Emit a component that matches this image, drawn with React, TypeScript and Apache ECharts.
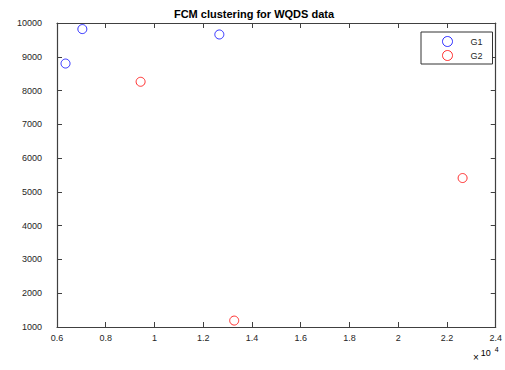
import React, { useEffect, useRef } from "react";
import * as echarts from "echarts";

const g1X = [6350, 7040, 12660];
const g1Y = [8800, 9820, 9660];
const g2X = [9430, 13270, 22640];
const g2Y = [8260, 1190, 5410];
const seriesNames = ["G1", "G2"];
const titleText = "FCM clustering for WQDS data";

const FONT = "'Liberation Sans', Arial, Helvetica, sans-serif";
const TXT = "#262626";
const AX = "#404040";

export default function App() {
  const ref = useRef<HTMLDivElement>(null);
  useEffect(() => {
    if (!ref.current) return;
    const chart = echarts.init(ref.current, undefined, { renderer: "svg" });
    const axisCommon = {
      axisLine: { show: true, lineStyle: { color: AX, width: 1.2 } },
      axisTick: { show: true, inside: true, length: 5, lineStyle: { color: AX, width: 1 } },
      splitLine: { show: false },
    };
    chart.setOption({
      animation: false,
      backgroundColor: "#ffffff",
      title: {
        text: titleText,
        left: 249,
        textAlign: "center",
        top: 3,
        textStyle: { fontFamily: FONT, fontSize: 11, fontWeight: "bold", color: "#000" },
      },
      grid: { left: 57, right: 3, top: 23, bottom: 43 },
      legend: {
        orient: "vertical",
        left: 421,
        top: 32,
        padding: [4, 10, 3, 21],
        itemGap: 3,
        itemWidth: 10,
        itemHeight: 10,
        itemStyle: { borderWidth: 1 },
        backgroundColor: "#fff",
        borderColor: "#333",
        borderWidth: 1,
        borderRadius: 0,
        textStyle: { fontFamily: FONT, fontSize: 9, color: TXT, padding: [0, 0, 3, 13] },
        data: seriesNames,
      },
      xAxis: [
        {
          type: "value",
          min: 6000,
          max: 24000,
          interval: 2000,
          position: "bottom",
          ...axisCommon,
          axisLabel: {
            fontFamily: FONT,
            fontSize: 9,
            color: TXT,
            margin: 6,
            formatter: (v: number) => String(Math.round(v / 1000) / 10),
          },
        },
        {
          type: "value",
          min: 6000,
          max: 24000,
          interval: 2000,
          position: "top",
          ...axisCommon,
          axisLabel: { show: false },
        },
      ],
      yAxis: [
        {
          type: "value",
          min: 1000,
          max: 10000,
          interval: 1000,
          position: "left",
          ...axisCommon,
          axisLabel: {
            fontFamily: FONT,
            fontSize: 9,
            color: TXT,
            margin: 15,
            padding: [0, 0, 5, 0],
            formatter: (v: number) => String(v),
          },
        },
        {
          type: "value",
          min: 1000,
          max: 10000,
          interval: 1000,
          position: "right",
          ...axisCommon,
          axisLabel: { show: false },
        },
      ],
      graphic: [
        {
          type: "text",
          left: 473,
          top: 346,
          style: {
            text: "{a|×}{b|10}{c|4}",
            rich: {
              a: { fontFamily: FONT, fontSize: 10, color: TXT, padding: [10, 2, 0, 0] },
              b: { fontFamily: FONT, fontSize: 9, color: TXT, padding: [2, 4, 0, 0] },
              c: { fontFamily: FONT, fontSize: 7, color: TXT, padding: [0, 0, 5, 0] },
            },
          },
        },
      ],
      series: [
        {
          name: seriesNames[0],
          type: "scatter",
          symbol: "circle",
          symbolSize: 9,
          itemStyle: { color: "rgba(0,0,0,0)", borderColor: "#0000ff", borderWidth: 1 },
          data: g1X.map((x, i) => [x, g1Y[i]]),
        },
        {
          name: seriesNames[1],
          type: "scatter",
          symbol: "circle",
          symbolSize: 9,
          itemStyle: { color: "rgba(0,0,0,0)", borderColor: "#ff0000", borderWidth: 1 },
          data: g2X.map((x, i) => [x, g2Y[i]]),
        },
      ],
    });
    return () => chart.dispose();
  }, []);
  return <div ref={ref} style={{ width: 505, height: 370, position: "fixed", left: 0, top: 0 }} />;
}
